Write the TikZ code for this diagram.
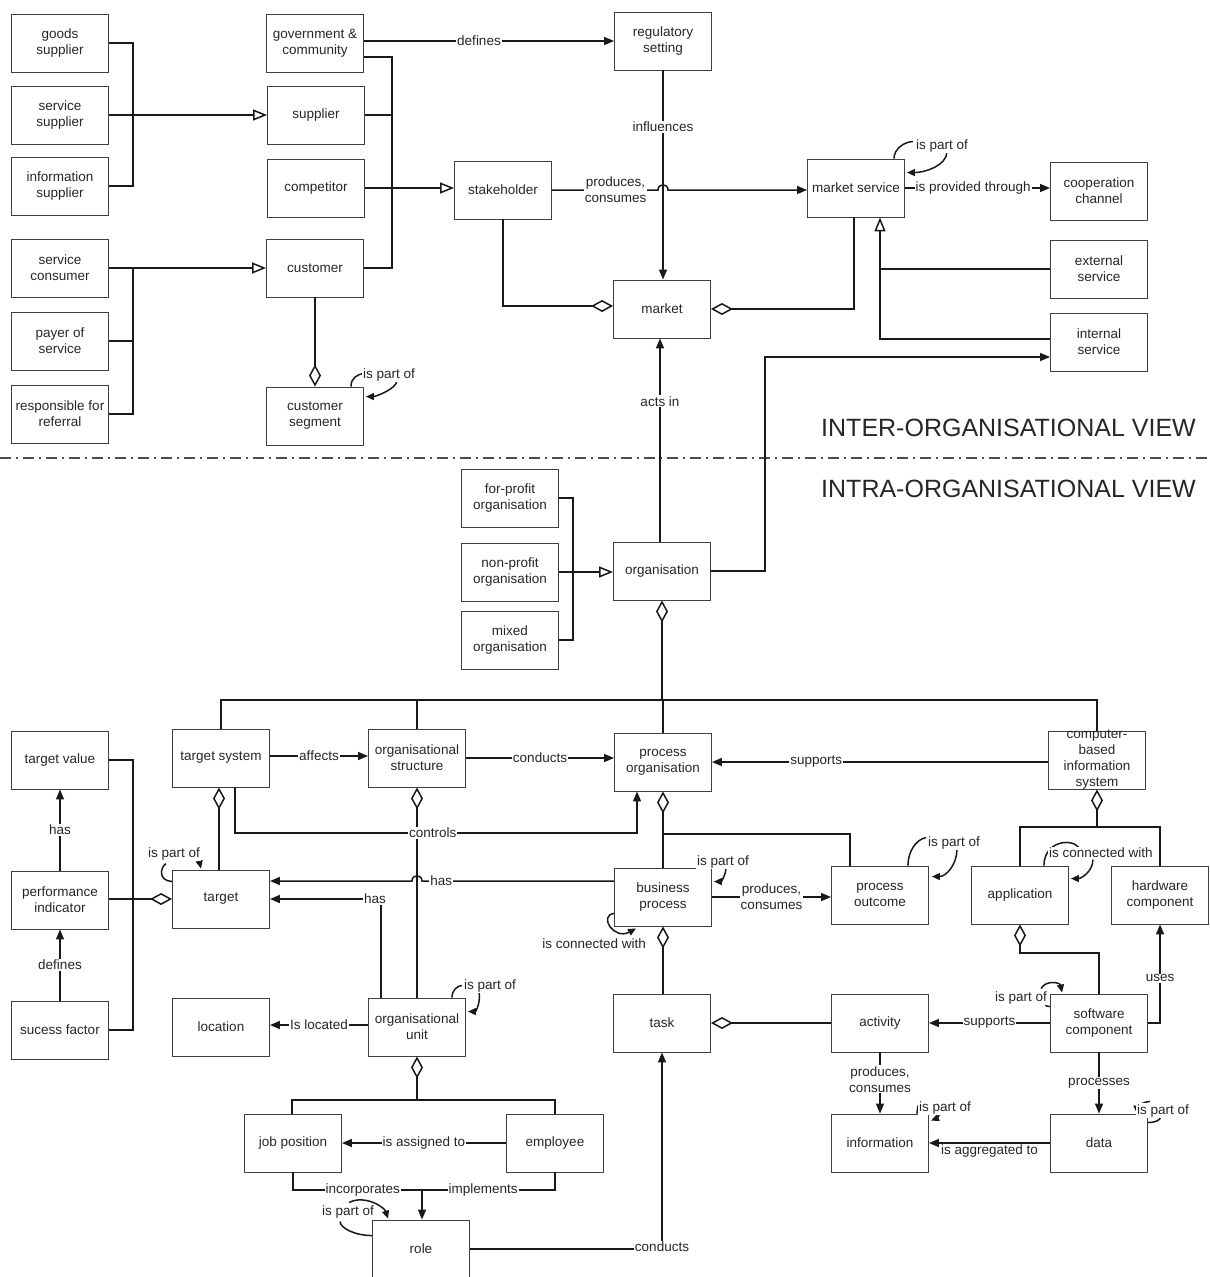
\documentclass[tikz,border=0pt]{standalone}
\usepackage{fontspec}
\setmainfont{Liberation Sans}
\usetikzlibrary{arrows.meta,calc}
\begin{document}
\begin{tikzpicture}[x=1pt,y=-1pt,
 box/.style={draw=black!75, line width=0.9pt, minimum width=97pt, minimum height=58pt, inner sep=1pt, align=center, font=\fontsize{13.5}{16}\selectfont, text=black!85},
 conn/.style={line width=1.5pt, draw=black!90},
 lbl/.style={fill=white, inner sep=1pt, font=\fontsize{13.5}{16}\selectfont, align=center, text=black!85},
 lbltxt/.style={inner sep=1pt, font=\fontsize{13.5}{16}\selectfont, align=center, text=black!85},
 fa/.style={-{Triangle[length=10pt,width=8pt]}},
 sa/.style={-{Triangle[length=8pt,width=7pt]}},
 oa/.style={-{Triangle[length=14pt,width=11pt,fill=white]}},
 dia/.style={{Diamond[length=22pt,width=12pt,fill=white]}-},
 viewlbl/.style={font=\fontsize{25}{30}\selectfont, anchor=east, text=black!85, inner sep=0pt}
 ]
\useasboundingbox (0,0) rectangle (1210,1277);

% ---------- boxes (upper) ----------
\node[box] (gs) at (60,43) {goods\\supplier};
\node[box] (ss) at (60,115) {service\\supplier};
\node[box] (is) at (60,186) {information\\supplier};
\node[box] (gov) at (315,43) {government \&\\community};
\node[box] (sup) at (316,115) {supplier};
\node[box] (comp) at (316,188) {competitor};
\node[box] (reg) at (663,41) {regulatory\\setting};
\node[box] (stake) at (503,190) {stakeholder};
\node[box] (ms) at (856,188) {market service};
\node[box] (coop) at (1099,191) {cooperation\\channel};
\node[box] (ext) at (1099,269) {external\\service};
\node[box] (int) at (1099,342) {internal\\service};
\node[box] (sc) at (60,268) {service\\consumer};
\node[box] (pay) at (60,341) {payer of\\service};
\node[box] (resp) at (60,414) {responsible for\\referral};
\node[box] (cust) at (315,268) {customer};
\node[box] (cseg) at (315,416) {customer\\segment};
\node[box] (mkt) at (662,309) {market};

% ---------- boxes (lower) ----------
\node[box] (fp) at (510,498) {for-profit\\organisation};
\node[box] (np) at (510,572) {non-profit\\organisation};
\node[box] (mix) at (510,640) {mixed\\organisation};
\node[box] (org) at (662,571) {organisation};
\node[box] (tv) at (60,760) {target value};
\node[box] (ts) at (221,758) {target system};
\node[box] (os) at (417,758) {organisational\\structure};
\node[box] (po) at (663,762) {process\\organisation};
\node[box] (cbis) at (1097,760) {};
\node[lbltxt] (cbistxt) at (1097,760) {computer-\\based\\information\\system};
\node[box] (pi) at (60,900) {performance\\indicator};
\node[box] (tgt) at (221,899) {target};
\node[box] (bp) at (663,897) {business\\process};
\node[box] (pout) at (880,895) {process\\outcome};
\node[box] (app) at (1020,895) {application};
\node[box] (hw) at (1160,895) {hardware\\component};
\node[box] (loc) at (221,1027) {location};
\node[box] (ou) at (417,1027) {organisational\\unit};
\node[box] (task) at (662,1023) {task};
\node[box] (act) at (880,1023) {activity};
\node[box] (sw) at (1099,1023) {software\\component};
\node[box] (sf) at (60,1030) {sucess factor};
\node[box] (job) at (293,1143) {job position};
\node[box] (emp) at (555,1143) {employee};
\node[box] (info) at (880,1143) {information};
\node[box] (data) at (1099,1143) {data};
\node[box] (role) at (421,1249) {role};

% ---------- bus coordinates ----------
\coordinate (busA) at (133,115);
\coordinate (busB) at (392,188);
\coordinate (busC) at (133,341);
\coordinate (busD) at (880,269);
\coordinate (busE) at (765,460);
\coordinate (busF) at (573,572);
\coordinate (busG) at (662,700);
\coordinate (busH) at (133,900);
\coordinate (busI) at (1097,827);
\coordinate (busJ) at (1099,953);
\coordinate (busK) at (417,1100);
\coordinate (ctl) at (637,833);
\coordinate (pjoin) at (663,834);
\coordinate (rjoin) at (422,1190);
\coordinate (hop1) at (663,190);
\coordinate (hop2) at (417,881);

% ---------- separator ----------
\draw[black!70, line width=1.2pt, dash pattern=on 11pt off 5pt on 2pt off 5pt] (0,458) -- (1210,458);
\node[viewlbl] (inter) at (1196,428) {INTER-ORGANISATIONAL VIEW};
\node[viewlbl] (intra) at (1196,489) {INTRA-ORGANISATIONAL VIEW};

% ---------- upper connectors ----------
\draw[conn] (gs.east) -| (busA) |- (is.east);
\draw[conn,oa] (ss.east) -- (sup.west);
\draw[conn] ([yshift=-14pt]gov.east) -| (busB) |- (cust.east);
\draw[conn] (sup.east) -- (sup.east -| busB);
\draw[conn,oa] (comp.east) -- (stake.west |- comp.east);
\draw[conn,fa] (gov.east |- reg.west) -- node[lbl,pos=0.46]{defines} (reg.west);
\draw[conn,oa] (sc.east) -- (cust.west);
\draw[conn] (pay.east) -- (busC);
\draw[conn] (sc.east -| busC) |- (resp.east);
\draw[conn,dia] (cseg.north) -- (cust.south);
\draw[conn,fa] (reg.south) -- node[lbl,pos=0.27]{influences} (reg.south |- mkt.north);
\draw[conn,fa] (stake.east) -- node[lbl,pos=0.6]{produces,\\consumes} ($(hop1)+(-5,0)$)
   .. controls ($(hop1)+(-5,-7)$) and ($(hop1)+(5,-7)$) .. ($(hop1)+(5,0)$) -- (ms.west |- stake.east);
\draw[conn,dia] ([yshift=3pt]mkt.west) -| (stake.south);
\draw[conn,dia] (mkt.east) -| ([xshift=-2pt]ms.south);
\draw[conn,fa] (ms.east) -- node[lbl,pos=0.47]{is provided through} (coop.west |- ms.east);
\draw[conn,oa] (ext.west) -| ([xshift=24pt]ms.south);
\draw[conn] ([yshift=3pt]int.west) -| (busD);
\draw[conn,fa] (org.east) -| (busE) |- ([yshift=-15pt]int.west);
\draw[conn,fa] ([xshift=-2pt]org.north) -- node[lbl,pos=0.69]{acts in} ([xshift=-2pt]mkt.south);

% self loops upper
\draw[conn] ($(cseg.north east)+(-13,0)$) .. controls +(0,-9) and +(-5,1) .. ($(cseg.north east)+(-1,-13)$);
\draw[conn,sa] ($(cseg.north east)+(33,-6)$) .. controls +(0,8) and +(10,0) .. ($(cseg.north east)+(2,10)$);
\node[lbl] (lp1) at ($(cseg.north east)+(25,-12)$) {is part of};
\draw[conn] ($(ms.north east)+(-11,0)$) .. controls +(0,-10) and +(-8,0) .. ($(ms.north east)+(8,-17)$);
\draw[conn,sa] ($(ms.north east)+(42,-7)$) .. controls +(0,14) and +(18,0) .. ($(ms.north east)+(2,14)$);
\node[lbl] (lp2) at ($(ms.north east)+(37,-13)$) {is part of};

% ---------- lower connectors ----------
\draw[conn] (fp.east) -| (busF) |- (mix.east);
\draw[conn,oa] (np.east) -- (org.west |- np.east);
\draw[conn,dia] (org.south) -- (busG);
\draw[conn] (ts.north) |- (cbis.north |- busG) -- (cbis.north);
\draw[conn] (os.north) -- (os.north |- busG);
\draw[conn] (po.north) -- (po.north |- busG);
\draw[conn,fa] ([yshift=2pt]ts.east) -- node[lbl]{affects} ([yshift=2pt]os.west);
\draw[conn,fa] (os.east) -- node[lbl]{conducts} (po.west |- os.east);
\draw[conn,fa] (cbis.west |- po.east) -- node[lbl,pos=0.69]{supports} (po.east);
\draw[conn,dia] ([xshift=-2pt]ts.south) -- ([xshift=-2pt]tgt.north);
\draw[conn,dia] (os.south) -- (ou.north);
\draw[conn,fa] ([xshift=14pt]ts.south) |- node[lbl,pos=0.746]{controls} (ctl) -- ([xshift=-26pt]po.south);
\draw[conn] (tv.east) -| (busH) |- (sf.east);
\draw[conn,dia] (tgt.west) -- (pi.east |- tgt.west);
\draw[conn,fa] (pi.north) -- node[lbl]{has} (tv.south);
\draw[conn,fa] (sf.north) -- node[lbl]{defines} (pi.south);
\draw[conn,fa] ([yshift=16pt]bp.west) -- node[lbl,pos=0.9]{has} ($(hop2)+(5,0)$)
   .. controls ($(hop2)+(5,-7)$) and ($(hop2)+(-5,-7)$) .. ($(hop2)+(-5,0)$) -- (tgt.east |- hop2);
\draw[conn,fa] ([xshift=-36pt]ou.north) |- node[lbl,pos=0.527]{has} (tgt.east);
\draw[conn,dia] (po.south) -- (bp.north);
\draw[conn] (pjoin) -| ([xshift=-30pt]pout.north);
\draw[conn,fa] (bp.east) -- node[lbl]{produces,\\consumes} (pout.west |- bp.east);
\draw[conn,dia] (bp.south) -- (bp.south |- task.north);
\draw[conn,dia] (cbis.south) -- (busI);
\draw[conn] (app.north) |- (busI -| hw.north) -- (hw.north);
\draw[conn,dia] (app.south) |- (busJ) -- (sw.north);
\draw[conn,fa] (sw.east) -| node[lbl,pos=0.727]{uses} (hw.south);
\draw[conn,fa] (sw.west) -- node[lbl]{supports} (act.east);
\draw[conn,dia] (task.east) -- (act.west);
\draw[conn,fa] (act.south) -- node[lbl,pos=0.44]{produces,\\consumes} (info.north);
\draw[conn,fa] (sw.south) -- node[lbl]{processes} (data.north);
\draw[conn,fa] (data.west) -- node[lbltxt,below]{is aggregated to} (info.east);
\draw[conn,fa] ([yshift=2pt]ou.west) -- node[lbl]{Is located} ([yshift=2pt]loc.east);
\draw[conn,dia] (ou.south) -- (busK);
\draw[conn] ([xshift=-1pt]job.north) |- (busK -| emp.north) -- (emp.north);
\draw[conn,fa] (emp.west) -- node[lbl]{is assigned to} (job.east);
\draw[conn] (job.south) |- node[lbl,pos=0.77]{incorporates} (rjoin);
\draw[conn] (emp.south) |- node[lbl,pos=0.77]{implements} (rjoin);
\draw[conn,fa] (rjoin) -- (rjoin |- role.north);
\draw[conn,fa] (role.east) -| node[lbl,pos=0.5,yshift=2pt]{conducts} (task.south);

% self loops lower
\draw[conn] ($(tgt.north west)+(0,12)$) .. controls +(-14,-1) and +(-6,4) .. ($(tgt.north west)+(-6,-6)$);
\draw[conn,sa] ($(tgt.north west)+(26,-14)$) .. controls +(2,5) and +(-1,-4) .. ($(tgt.north west)+(29,-1)$);
\node[lbl] (lp3) at ($(tgt.north west)+(2,-16)$) {is part of};

\draw[conn] ($(bp.north east)+(-15,0)$) -- ($(bp.north east)+(-14,-10)$);
\draw[conn,sa] ($(bp.north east)+(14,0)$) .. controls +(0,8) and +(7,0) .. ($(bp.north east)+(2,14)$);
\node[lbl] (lp4) at ($(bp.north east)+(11,-6)$) {is part of};

\draw[conn,sa] ($(bp.south west)+(0,-13)$) .. controls +(-16,2) and +(-22,12) .. ($(bp.south west)+(22,2)$);
\node[lbl] (lp5) at ($(bp.south west)+(-20,17)$) {is connected with};

\draw[conn] ($(pout.north east)+(-21,0)$) .. controls +(0,-14) and +(-10,2) .. ($(pout.north east)+(-3,-28)$);
\draw[conn,sa] ($(pout.north east)+(28,-16)$) .. controls +(0,15) and +(14,0) .. ($(pout.north east)+(3,11)$);
\node[lbl] (lp6) at ($(pout.north east)+(25,-23)$) {is part of};

\draw[conn] ($(app.north east)+(-25,0)$) .. controls +(0,-24) and +(-8,-10) .. ($(app.north east)+(10,-18)$);
\draw[conn,sa] ($(app.north east)+(24,-6)$) .. controls +(0,12) and +(10,0) .. ($(app.north east)+(2,13)$);
\node[lbl] (lp7) at ($(app.north east)+(32,-13)$) {is connected with};

\draw[conn] ($(sw.north west)+(0,13)$) .. controls +(-5,0) and +(1,3) .. ($(sw.north west)+(-6,8)$);
\draw[conn,sa] ($(sw.north west)+(-9,-5)$) .. controls +(5,-9) and +(-2,-10) .. ($(sw.north west)+(12,-1)$);
\node[lbl] (lp8) at ($(sw.north west)+(-29,4)$) {is part of};

\draw[conn] ($(info.north east)+(-12,0)$) -- +(1,-8);
\draw[conn,sa] ($(info.north east)+(12,-2)$) .. controls +(-1,4) and +(5,-2) .. ($(info.north east)+(2,7)$);
\node[lbl] (lp9) at ($(info.north east)+(16,-6)$) {is part of};

\draw[conn] ($(data.north east)+(0,9)$) .. controls +(7,0) and +(-1,4) .. ($(data.north east)+(13,3)$);
\draw[conn,sa] ($(data.north east)+(2,-12)$) .. controls +(-8,0) and +(0,-6) .. ($(data.north east)+(-11,0)$);
\node[lbl] (lp10) at ($(data.north east)+(15,-3)$) {is part of};

\draw[conn] ($(ou.north east)+(-14,0)$) .. controls +(0,-8) and +(-4,0) .. ($(ou.north east)+(-4,-12)$);
\draw[conn,sa] ($(ou.north east)+(13,-6)$) .. controls +(2,10) and +(8,0) .. ($(ou.north east)+(2,14)$);
\node[lbl] (lp11) at ($(ou.north east)+(24,-12)$) {is part of};

\draw[conn] ($(role.north west)+(0,16)$) .. controls +(-18,0) and +(0,6) .. ($(role.north west)+(-32,2)$);
\draw[conn,sa] ($(role.north west)+(-23,-17)$) .. controls +(15,-8) and +(-4,-12) .. ($(role.north west)+(16,-1)$);
\node[lbl] (lp12) at ($(role.north west)+(-24,-8)$) {is part of};
\end{tikzpicture}
\end{document}
